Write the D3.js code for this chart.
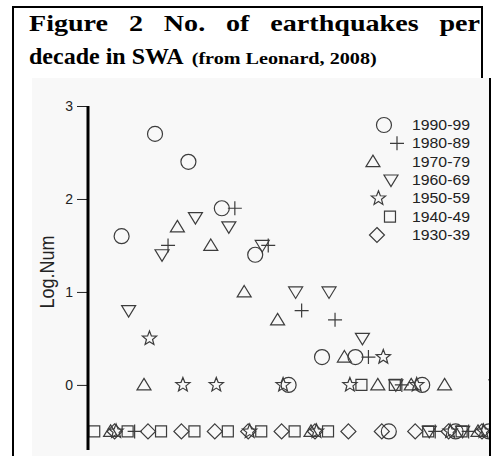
<!DOCTYPE html>
<html>
<head>
<meta charset="utf-8">
<script src="https://d3js.org/d3.v7.min.js"></script>
<style>
  body { margin: 0; background: white; }
  svg text { font-family: 'Liberation Sans', Arial, sans-serif; }
</style>
</head>
<body>
<svg id="chart" width="493" height="456"></svg>
<script>
// magnitude bins along x (no x axis is drawn in the figure)
const magnitudes = [1.0, 1.2, 1.4, 1.6, 1.8, 2.0, 2.2, 2.4, 2.6, 2.8, 3.0, 3.2, 3.4];
const decades = ['1990-99', '1980-89', '1970-79', '1960-69', '1950-59', '1940-49', '1930-39'];
// log10 of the count per bin, -0.5 = empty bin, null = not plotted
const log1990 = [null, 1.6, 2.7, 2.4, 1.9, 1.4, 0, 0.3, 0.3, -0.5, 0, -0.5, -0.5];
const log1980 = [null, -0.5, 1.5, null, 1.9, 1.5, 0.8, 0.7, 0.3, 0, -0.5, -0.5, -0.5];
const log1970 = [null, -0.5, 0, 1.7, 1.5, 1.0, 0.7, -0.5, 0.3, 0, 0, 0, -0.5];
const log1960 = [null, 0.8, 1.4, 1.8, 1.7, 1.5, 1.0, 1.0, 0.5, 0, -0.5, -0.5, 0];
const log1950 = [null, -0.5, 0.5, 0, 0, -0.5, 0, -0.5, 0, 0.3, 0, -0.5, -0.5];
const log1940 = [-0.5, -0.5, -0.5, -0.5, -0.5, -0.5, -0.5, -0.5, 0, 0, -0.5, -0.5, -0.5];
const log1930 = [null, -0.5, -0.5, -0.5, -0.5, -0.5, -0.5, -0.5, -0.5, -0.5, -0.5, -0.5, -0.5];
const yTicks = [0, 1, 2, 3];
// small sideways shift of each decade (in magnitude units) so symbols don't sit on top of each other
const decadeShift = [0.042, 0.12, -0.024, 0.084, 0.009, 0.078, 0];
const decadeSymbol = ['circle', 'plus', 'triangle', 'invTriangle', 'star', 'square', 'diamond'];

const titleLine1 = ['Figure', '2', 'No.', 'of', 'earthquakes', 'per'];
const titleLine2 = 'decade in SWA';
const titleSource = '(from Leonard, 2008)';

const series = [log1990, log1980, log1970, log1960, log1950, log1940, log1930];

const svg = d3.select('#chart');
const serif = "'Liberation Serif', 'Times New Roman', serif";
const stretch = 1.17; // the scanned page is a bit wider than tall

// pasted picture area + text box frame
svg.append('rect').attr('x', 32).attr('y', 78).attr('width', 458).attr('height', 378).attr('fill', '#f8f8f8');
svg.append('line').attr('x1', 13).attr('x2', 13).attr('y1', 6).attr('y2', 456).attr('stroke', '#000').attr('stroke-width', 2);
svg.append('line').attr('x1', 12).attr('x2', 483).attr('y1', 7).attr('y2', 7).attr('stroke', '#000').attr('stroke-width', 2);
svg.append('line').attr('x1', 482).attr('x2', 482).attr('y1', 6).attr('y2', 78).attr('stroke', '#000').attr('stroke-width', 2);
svg.append('line').attr('x1', 490).attr('x2', 490).attr('y1', 78).attr('y2', 456).attr('stroke', '#000').attr('stroke-width', 2);

// title, first line justified
var words = svg.append('g').selectAll('text').data(titleLine1).join('text')
  .attr('y', 31)
  .style('font-family', serif).style('font-weight', 'bold').style('font-size', '24px')
  .attr('fill', '#000')
  .text(d => d);
var widths = [];
words.each(function () { widths.push(this.getComputedTextLength() * stretch); });
words.attr('textLength', (d, i) => widths[i]).attr('lengthAdjust', 'spacingAndGlyphs');
var left = 29, right = 480;
var gap = (right - left - d3.sum(widths)) / (titleLine1.length - 1);
var pos = left;
words.attr('x', function (d, i) { var p = pos; pos += widths[i] + gap; return p; });

var t2 = svg.append('text').attr('x', 29).attr('y', 64)
  .style('font-family', serif).style('font-weight', 'bold').style('font-size', '24px')
  .text(titleLine2);
var w2 = t2.node().getComputedTextLength();
svg.append('text').attr('x', 29 + w2 + 8).attr('y', 64)
  .style('font-family', serif).style('font-weight', 'bold').style('font-size', '17px')
  .attr('textLength', 185).attr('lengthAdjust', 'spacingAndGlyphs')
  .text(titleSource);

// scales
const x = d3.scaleLinear().domain([1.0, 3.4]).range([81.2, 482]);
const y = d3.scaleLinear().domain([-0.7, 3]).range([450, 106]);

svg.append('clipPath').attr('id', 'clip')
  .append('rect').attr('x', 32).attr('y', 78).attr('width', 457).attr('height', 378);

function symbolPath(type) {
  if (type === 'circle') return 'M7.5,0A7.5,7.5 0 1,1 -7.5,0A7.5,7.5 0 1,1 7.5,0Z';
  if (type === 'plus') return 'M-7,0H7M0,-7V7';
  if (type === 'triangle') return 'M0,-6.5L7,5H-7Z';
  if (type === 'invTriangle') return 'M-7,-5H7L0,6.5Z';
  if (type === 'square') return 'M-5.5,-5.5H5.5V5.5H-5.5Z';
  if (type === 'diamond') return 'M0,-7.5L7.5,0L0,7.5L-7.5,0Z';
  if (type === 'star') {
    var pts = d3.range(10).map(function (i) {
      var r = i % 2 ? 3.2 : 7.5;
      var a = i * Math.PI / 5 - Math.PI / 2;
      return [r * Math.cos(a), r * Math.sin(a)];
    });
    return 'M' + pts.join('L') + 'Z';
  }
}

// points
var pts = [];
series.forEach(function (vals, s) {
  vals.forEach(function (v, k) {
    if (v !== null) pts.push({ s: s, mag: magnitudes[k], v: v });
  });
});

svg.append('g').attr('clip-path', 'url(#clip)')
  .selectAll('path').data(pts).join('path')
  .attr('transform', d => 'translate(' + x(d.mag + decadeShift[d.s]) + ',' + y(d.v) + ')')
  .attr('d', d => symbolPath(decadeSymbol[d.s]))
  .attr('fill', 'none')
  .attr('stroke', '#3c3c3c')
  .attr('stroke-width', 1.2);

// y axis
var yAxis = svg.append('g').attr('transform', 'translate(88,0)')
  .call(d3.axisLeft(y).tickValues(yTicks).tickSize(11).tickPadding(4).tickFormat(d3.format('d')));
yAxis.select('.domain').remove();
yAxis.selectAll('line').attr('stroke', '#222');
yAxis.selectAll('text').attr('fill', '#222').style('font-size', '14px')
  .style('font-family', "'Liberation Sans', Arial, sans-serif");
svg.append('line').attr('x1', 88).attr('x2', 88).attr('y1', y(3)).attr('y2', y(-0.7))
  .attr('stroke', '#000').attr('stroke-width', 3);

svg.append('text')
  .attr('transform', 'translate(54,272) scale(' + stretch + ',1) rotate(-90)')
  .attr('text-anchor', 'middle')
  .attr('fill', '#222')
  .style('font-size', '18px')
  .text('Log.Num');

// legend
const legendMag = 2.771;
const legendY = d3.scaleLinear().domain([0, decades.length - 1]).range([125, 235]);
var lg = svg.append('g').selectAll('g').data(decades).join('g');
lg.append('path')
  .attr('transform', (d, i) => 'translate(' + x(legendMag + decadeShift[i]) + ',' + legendY(i) + ')')
  .attr('d', (d, i) => symbolPath(decadeSymbol[i]))
  .attr('fill', 'none')
  .attr('stroke', '#3c3c3c')
  .attr('stroke-width', 1.2);
lg.append('text')
  .attr('x', 412)
  .attr('y', (d, i) => legendY(i))
  .attr('dy', '0.36em')
  .attr('fill', '#222')
  .attr('textLength', 58)
  .attr('lengthAdjust', 'spacingAndGlyphs')
  .style('font-size', '14px')
  .text(d => d);
</script>
</body>
</html>
